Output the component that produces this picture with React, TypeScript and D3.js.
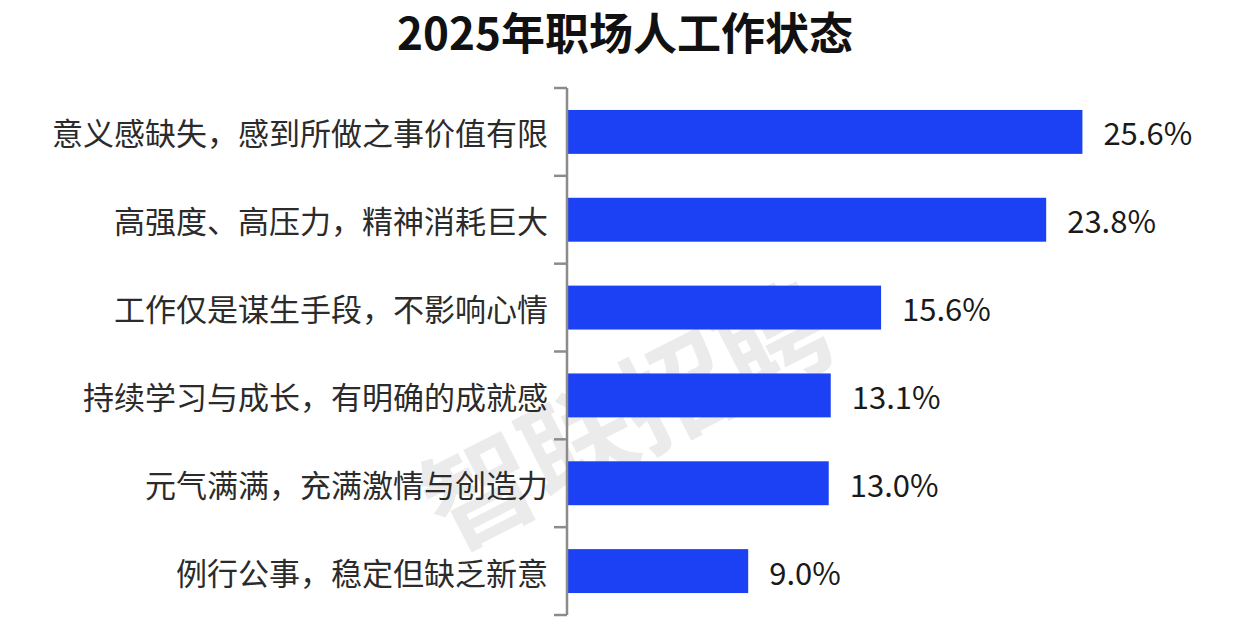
import { useEffect, useRef } from "react";
import * as d3 from "d3";

const categories = [
  "意义感缺失，感到所做之事价值有限",
  "高强度、高压力，精神消耗巨大",
  "工作仅是谋生手段，不影响心情",
  "持续学习与成长，有明确的成就感",
  "元气满满，充满激情与创造力",
  "例行公事，稳定但缺乏新意",
];
const values = [25.6, 23.8, 15.6, 13.1, 13.0, 9.0];
const title = "2025年职场人工作状态";
const watermark = "智联招聘";

const font = "'Noto Sans CJK SC', 'Noto Sans', sans-serif";

export default function App() {
  const svgRef = useRef<SVGSVGElement>(null);

  useEffect(() => {
    if (!svgRef.current) return;
    const width = 1237;
    const height = 627;
    const margin = { top: 88, right: 66, bottom: 12, left: 567 };

    d3.select(svgRef.current).selectAll("*").remove();
    const svg = d3
      .select(svgRef.current)
      .attr("width", width)
      .attr("height", height)
      .attr("viewBox", `0 0 ${width} ${height}`)
      .style("font-family", font);

    const x = d3
      .scaleLinear()
      .domain([0, 30])
      .range([margin.left, margin.left + 604]);

    const y = d3
      .scaleBand<string>()
      .domain(categories)
      .range([margin.top, height - margin.bottom])
      .paddingInner(0.5)
      .paddingOuter(0.25);

    // watermark, behind everything
    svg
      .append("text")
      .attr("transform", "translate(624,410) rotate(-27)")
      .attr("text-anchor", "middle")
      .attr("dominant-baseline", "central")
      .attr("font-size", 110)
      .attr("font-weight", 700)
      .attr("fill", "#ebebeb")
      .text(watermark);

    svg
      .append("text")
      .attr("x", 625)
      .attr("y", 31)
      .attr("text-anchor", "middle")
      .attr("dominant-baseline", "central")
      .attr("font-size", 44)
      .attr("font-weight", 700)
      .attr("fill", "#111")
      .text(title);

    const data = categories.map((c, i) => ({ c, v: values[i] }));

    svg
      .append("g")
      .selectAll("rect")
      .data(data)
      .join("rect")
      .attr("x", x(0))
      .attr("y", (d) => y(d.c)!)
      .attr("width", (d) => x(d.v) - x(0))
      .attr("height", y.bandwidth())
      .attr("fill", "#1c41f4");

    // axis with ticks between categories
    const step = y.step();
    const bounds = d3.range(categories.length + 1).map((i) => margin.top + i * step);
    const axis = svg.append("g").attr("stroke", "#8c8c8c").attr("stroke-width", 2.5);
    axis
      .append("line")
      .attr("x1", x(0))
      .attr("x2", x(0))
      .attr("y1", bounds[0])
      .attr("y2", bounds[bounds.length - 1]);
    axis
      .selectAll("line.tick")
      .data(bounds)
      .join("line")
      .attr("class", "tick")
      .attr("x1", x(0) - 13)
      .attr("x2", x(0))
      .attr("y1", (d) => d)
      .attr("y2", (d) => d);

    svg
      .append("g")
      .selectAll("text")
      .data(data)
      .join("text")
      .attr("x", x(0) - 19)
      .attr("y", (d) => y(d.c)! + y.bandwidth() / 2)
      .attr("text-anchor", "end")
      .attr("dominant-baseline", "central")
      .attr("font-size", 31)
      .attr("fill", "#2b2b2b")
      .text((d) => d.c);

    svg
      .append("g")
      .selectAll("text")
      .data(data)
      .join("text")
      .attr("x", (d) => x(d.v) + 21)
      .attr("y", (d) => y(d.c)! + y.bandwidth() / 2)
      .attr("dominant-baseline", "central")
      .attr("font-size", 31)
      .attr("fill", "#1a1a1a")
      .text((d) => `${d.v.toFixed(1)}%`);
  }, []);

  return (
    <div style={{ position: "fixed", left: 0, top: 0 }}>
      <svg ref={svgRef} style={{ display: "block", background: "#fff" }} />
    </div>
  );
}
